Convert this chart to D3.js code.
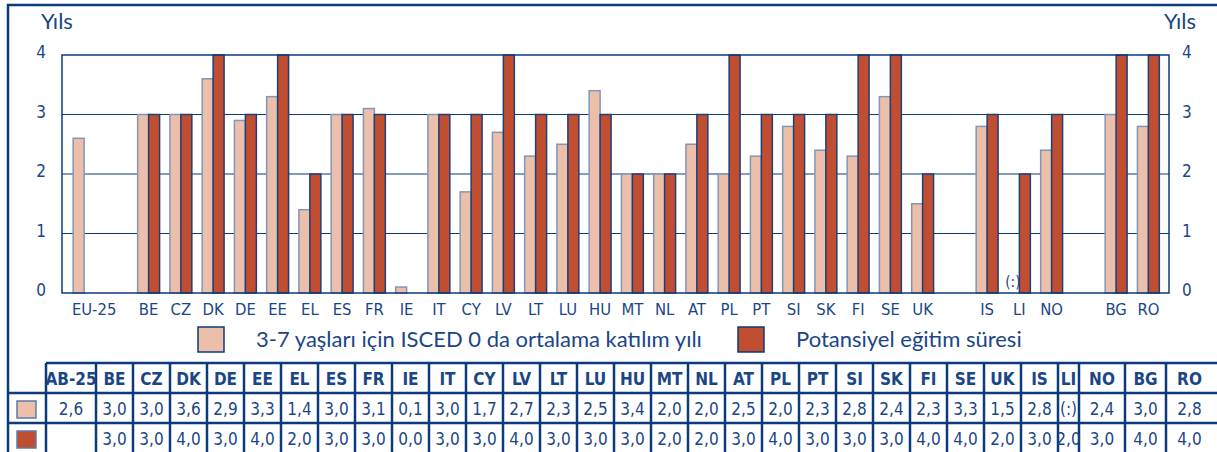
<!DOCTYPE html>
<html lang="tr">
<head>
<meta charset="UTF-8">
<title>ISCED 0 katılım yılı</title>
<script src="https://d3js.org/d3.v7.min.js"></script>
<style>
 body {margin: 0; padding: 0; background: #fff;}
 svg {display: block;}
 .narrow {font-family: "Liberation Sans Narrow", "DejaVu Sans Condensed", sans-serif;}
 .wide {font-family: Lato, "Liberation Sans", sans-serif;}
</style>
</head>
<body>
<svg id="chart" width="1217" height="452"></svg>
<script>
// slots on the x axis; "" marks an empty gap slot
const slots = ["EU-25", "", "BE", "CZ", "DK", "DE", "EE", "EL", "ES", "FR", "IE", "IT", "CY", "LV", "LT",
  "LU", "HU", "MT", "NL", "AT", "PL", "PT", "SI", "SK", "FI", "SE", "UK", "", "IS", "LI", "NO", "", "BG", "RO"];
const attendance = [2.6, null, 3.0, 3.0, 3.6, 2.9, 3.3, 1.4, 3.0, 3.1, 0.1, 3.0, 1.7, 2.7, 2.3,
  2.5, 3.4, 2.0, 2.0, 2.5, 2.0, 2.3, 2.8, 2.4, 2.3, 3.3, 1.5, null, 2.8, null, 2.4, null, 3.0, 2.8];
const potential = [null, null, 3.0, 3.0, 4.0, 3.0, 4.0, 2.0, 3.0, 3.0, 0.0, 3.0, 3.0, 4.0, 3.0,
  3.0, 3.0, 2.0, 2.0, 3.0, 4.0, 3.0, 3.0, 3.0, 4.0, 4.0, 2.0, null, 3.0, 2.0, 3.0, null, 4.0, 4.0];
const yTicks = [0, 1, 2, 3, 4];
const legendLabels = ["3-7 yaşları için ISCED 0 da ortalama katılım yılı", "Potansiyel eğitim süresi"];

// table underneath
const tableHeads = ["AB-25", "BE", "CZ", "DK", "DE", "EE", "EL", "ES", "FR", "IE", "IT", "CY", "LV", "LT", "LU",
  "HU", "MT", "NL", "AT", "PL", "PT", "SI", "SK", "FI", "SE", "UK", "IS", "LI", "NO", "BG", "RO"];
const tableRow1 = ["2,6", "3,0", "3,0", "3,6", "2,9", "3,3", "1,4", "3,0", "3,1", "0,1", "3,0", "1,7", "2,7", "2,3", "2,5",
  "3,4", "2,0", "2,0", "2,5", "2,0", "2,3", "2,8", "2,4", "2,3", "3,3", "1,5", "2,8", "(:)", "2,4", "3,0", "2,8"];
const tableRow2 = ["", "3,0", "3,0", "4,0", "3,0", "4,0", "2,0", "3,0", "3,0", "0,0", "3,0", "3,0", "4,0", "3,0", "3,0",
  "3,0", "2,0", "2,0", "3,0", "4,0", "3,0", "3,0", "3,0", "4,0", "4,0", "2,0", "3,0", "2,0", "3,0", "4,0", "4,0"];

const navy = "#0b3b7a";
const textCol = "#1b4686";
const lightFill = "#ebbfaa", lightStroke = "#8297b8";
const darkFill = "#c24e32", darkStroke = "#1f3f77";

const svg = d3.select("#chart");

// outer frame
svg.append("path").attr("d", "M8,452V5H1217")
  .attr("fill", "none").attr("stroke", navy).attr("stroke-width", 2.5);

const plot = {left: 62, right: 1169, top: 55, bottom: 293};

const x0 = d3.scaleBand().domain(d3.range(slots.length)).range([68, 1164.5])
  .paddingInner(0.32).paddingOuter(0.16);
const x1 = d3.scaleBand().domain(["a", "p"]).range([0, x0.bandwidth()]);
const y = d3.scaleLinear().domain([0, 4]).range([plot.bottom, plot.top]);

// gridlines
svg.append("g").selectAll("line").data(yTicks.slice(1, 4)).join("line")
  .attr("x1", plot.left).attr("x2", plot.right)
  .attr("y1", d => y(d)).attr("y2", d => y(d))
  .attr("stroke", navy).attr("stroke-width", 1);

// bars
const groups = svg.append("g").selectAll("g").data(slots.map((s, i) => i)).join("g")
  .attr("transform", i => `translate(${x0(i)},0)`);
groups.filter(i => attendance[i] != null).append("rect")
  .attr("x", x1("a")).attr("width", x1.bandwidth())
  .attr("y", i => y(attendance[i])).attr("height", i => y(0) - y(attendance[i]))
  .attr("fill", lightFill).attr("stroke", lightStroke).attr("stroke-width", 1.5);
groups.filter(i => potential[i] != null && potential[i] > 0).append("rect")
  .attr("x", x1("p")).attr("width", x1.bandwidth())
  .attr("y", i => y(potential[i])).attr("height", i => y(0) - y(potential[i]))
  .attr("fill", darkFill).attr("stroke", darkStroke).attr("stroke-width", 1.5);

// missing value marker for LI
const li = slots.indexOf("LI");
svg.append("text").attr("class", "narrow")
  .attr("x", x0(li) + x1("a") + x1.bandwidth() / 2 - 1).attr("y", y(0) - 6)
  .attr("text-anchor", "middle").attr("font-size", 15).attr("fill", textCol).text("(:)");

// plot frame
svg.append("path")
  .attr("d", `M${plot.left},${plot.bottom}V${plot.top}H${plot.right}V${plot.bottom}Z`)
  .attr("fill", "none").attr("stroke", navy).attr("stroke-width", 1.5);

// y axes (left and right)
svg.append("g").selectAll("text").data(yTicks).join("text").attr("class", "narrow")
  .attr("x", 46).attr("y", d => y(d) + 3).attr("text-anchor", "end")
  .attr("font-size", 17).attr("fill", textCol).text(d => d);
svg.append("g").selectAll("text").data(yTicks).join("text").attr("class", "narrow")
  .attr("x", 1182).attr("y", d => y(d) + 3).attr("text-anchor", "start")
  .attr("font-size", 17).attr("fill", textCol).text(d => d);
svg.append("text").attr("class", "wide").attr("x", 41).attr("y", 29)
  .attr("font-size", 22).attr("fill", textCol).text("Yıls");
svg.append("text").attr("class", "wide").attr("x", 1196).attr("y", 29).attr("text-anchor", "end")
  .attr("font-size", 22).attr("fill", textCol).text("Yıls");

// x labels
svg.append("g").selectAll("text").data(slots.map((s, i) => i).filter(i => slots[i])).join("text")
  .attr("class", "narrow")
  .attr("x", i => x0(i) + x0.bandwidth() / 2 + (i === 0 ? 10 : 0))
  .attr("y", 315).attr("text-anchor", "middle")
  .attr("font-size", 16.5).attr("fill", textCol).text(i => slots[i]);

// legend
const legend = svg.append("g");
[[198, lightFill], [738, darkFill]].forEach(([lx, col], k) => {
  legend.append("rect").attr("x", lx).attr("y", 327).attr("width", 26).attr("height", 25)
    .attr("fill", col).attr("stroke", navy).attr("stroke-width", 1.5);
  legend.append("text").attr("class", "wide").attr("x", lx + 58).attr("y", 347)
    .attr("font-size", 22).attr("fill", textCol).text(legendLabels[k]);
});

// table
const colWidth = tableHeads.map(h => ({"AB-25": 50, "LI": 21, "NO": 46, "BG": 41, "RO": 47}[h] || 37));
const colX = [46];
colWidth.forEach(w => colX.push(colX[colX.length - 1] + w));
const rowY = [363, 393, 423, 452];
const tbl = svg.append("g");
// horizontal lines
tbl.append("line").attr("x1", 46).attr("x2", 1217).attr("y1", rowY[0]).attr("y2", rowY[0]);
tbl.append("line").attr("x1", 8).attr("x2", 1217).attr("y1", rowY[1]).attr("y2", rowY[1]);
tbl.append("line").attr("x1", 8).attr("x2", 1217).attr("y1", rowY[2]).attr("y2", rowY[2]);
// vertical lines
tbl.selectAll("line.v").data(colX.slice(0, -1)).join("line").attr("class", "v")
  .attr("x1", d => d).attr("x2", d => d).attr("y1", rowY[0]).attr("y2", rowY[3]);
tbl.selectAll("line").attr("stroke", navy).attr("stroke-width", 2.5);

[[tableHeads, 385, "bold"], [tableRow1, 415, "normal"], [tableRow2, 445, "normal"]].forEach(([row, by, fw]) => {
  tbl.append("g").selectAll("text").data(row).join("text").attr("class", "narrow")
    .attr("x", (d, i) => (colX[i] + colX[i + 1]) / 2).attr("y", by)
    .attr("text-anchor", "middle").attr("font-size", 17).attr("font-weight", fw)
    .attr("fill", textCol).text(d => d);
});
tbl.append("rect").attr("x", 17).attr("y", 401).attr("width", 19).attr("height", 17)
  .attr("fill", lightFill).attr("stroke", "#5f7aa3").attr("stroke-width", 1.5);
tbl.append("rect").attr("x", 17).attr("y", 431).attr("width", 19).attr("height", 17)
  .attr("fill", darkFill).attr("stroke", "#5f7aa3").attr("stroke-width", 1.5);
</script>
</body>
</html>
